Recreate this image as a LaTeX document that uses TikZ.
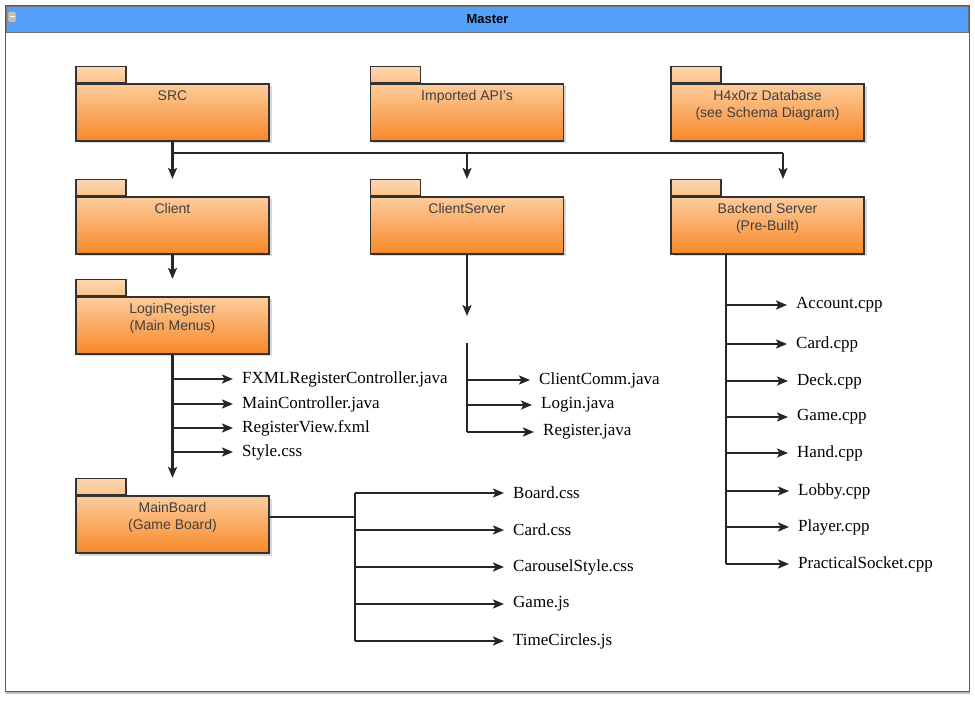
\documentclass[tikz,border=0pt]{standalone}
\usepackage{fontspec}
\setmainfont{Liberation Serif}
\setsansfont{Liberation Sans}
\usetikzlibrary{positioning,arrows.meta,shadows}

\definecolor{barblue}{RGB}{84,160,250}
\definecolor{pkgtop}{RGB}{253,204,156}
\definecolor{pkgbot}{RGB}{247,136,40}
\definecolor{tabtop}{RGB}{253,214,176}
\definecolor{tabbot}{RGB}{251,196,140}

\tikzset{
        % Outer frame and title bar
        frame_box/.style={rectangle, draw=black!65, line width=1.8pt, fill=white, minimum width=964pt, minimum height=686pt, drop shadow={shadow xshift=0pt, shadow yshift=-2pt, opacity=0.5}},
        title_bar/.style={rectangle, draw=black!55, line width=0.8pt, fill=barblue, minimum width=962pt, minimum height=26pt, font=\sffamily\bfseries\fontsize{13}{15}\selectfont},
        collapse_icon/.style={rectangle, rounded corners=1pt, draw=black!50, fill=black!25, minimum width=8pt, minimum height=11pt, inner sep=0pt,
            path picture={\draw[white, line width=1pt] ([xshift=1.5pt]path picture bounding box.west) -- ([xshift=-1.5pt]path picture bounding box.east);}},
        % Package folders
        pkg_body/.style={rectangle, draw=black!80, line width=1.4pt, top color=pkgtop, bottom color=pkgbot, minimum width=193pt, minimum height=57pt, inner sep=0pt,
            drop shadow={shadow xshift=2.5pt, shadow yshift=-2.5pt, opacity=0.3}},
        pkg_tab/.style={rectangle, draw=black!80, line width=1.4pt, top color=tabtop, bottom color=tabbot, minimum width=50pt, minimum height=16pt, inner sep=0pt, anchor=south west},
        pkg_text/.style={anchor=north, align=center, inner sep=0pt, yshift=-7pt, text=black!75, font=\sffamily\fontsize{14}{17}\selectfont},
        % File names
        file_label/.style={anchor=west, inner sep=0pt, font=\fontsize{17}{20}\selectfont},
        % Connectors
        link_line/.style={draw=black!85, line width=2.3pt},
        link_arrow/.style={link_line, -{Stealth[length=11pt, width=9pt, inset=2.5pt]}},
        branch/.style={link_arrow, shorten >=9pt}
}

\begin{document}
\begin{tikzpicture}[x=1pt, y=-1pt]
\useasboundingbox (0,0) rectangle (975,703);

\node[frame_box] (frame) at (487.5,348.5) {};
\node[title_bar] (master) at (487.5,19.5) {Master};
\node[collapse_icon] (collapse) at (12,17) {};

% packages
\node[pkg_body] (src) at (172.5,112.5) {};
\node[pkg_body] (imported) at (467,112.5) {};
\node[pkg_body] (database) at (767.5,112.5) {};
\node[pkg_body] (client) at (172.5,225.5) {};
\node[pkg_body] (clientserver) at (467,225.5) {};
\node[pkg_body] (backend) at (767.5,225.5) {};
\node[pkg_body] (login) at (172.5,325.5) {};
\node[pkg_body] (mainboard) at (172.5,524.5) {};
\foreach \p in {src,imported,database,client,clientserver,backend,login,mainboard}
    \node[pkg_tab] (\p-tab) at (\p.north west) {};

\node[pkg_text] (src-t) at (src.north) {SRC};
\node[pkg_text] (imported-t) at (imported.north) {Imported API's};
\node[pkg_text] (database-t) at (database.north) {H4x0rz Database\\(see Schema Diagram)};
\node[pkg_text] (client-t) at (client.north) {Client};
\node[pkg_text] (clientserver-t) at (clientserver.north) {ClientServer};
\node[pkg_text] (backend-t) at (backend.north) {Backend Server\\(Pre-Built)};
\node[pkg_text] (login-t) at (login.north) {LoginRegister\\(Main Menus)};
\node[pkg_text] (mainboard-t) at (mainboard.north) {MainBoard\\(Game Board)};

% file names
\node[file_label] (fxml) at (242,379) {FXMLRegisterController.java};
\node[file_label] (mainctrl) at (242,404) {MainController.java};
\node[file_label] (regview) at (242,428) {RegisterView.fxml};
\node[file_label] (style) at (242,452) {Style.css};

\node[file_label] (clientcomm) at (539,380) {ClientComm.java};
\node[file_label] (loginjava) at (541,405) {Login.java};
\node[file_label] (registerjava) at (543,432) {Register.java};

\node[file_label] (boardcss) at (513,493) {Board.css};
\node[file_label] (cardcss) at (513,530) {Card.css};
\node[file_label] (carousel) at (513,567) {CarouselStyle.css};
\node[file_label] (gamejs) at (513,604) {Game.js};
\node[file_label] (timecircles) at (513,641) {TimeCircles.js};

\node[file_label] (account) at (796,305) {Account.cpp};
\node[file_label] (cardcpp) at (796,344) {Card.cpp};
\node[file_label] (deck) at (797,381) {Deck.cpp};
\node[file_label] (game) at (797,417) {Game.cpp};
\node[file_label] (hand) at (797,453) {Hand.cpp};
\node[file_label] (lobby) at (798,491) {Lobby.cpp};
\node[file_label] (player) at (798,527) {Player.cpp};
\node[file_label] (socket) at (798,564) {PracticalSocket.cpp};

% SRC to the second row
\coordinate (src-split) at (172.5,153);
\coordinate (backend-in) at (783,153);
\draw[link_arrow] (src.south) -- (src.south |- client-tab.north);
\draw[link_line] (src-split) -- (backend-in);
\draw[link_arrow] (src-split -| clientserver.south) -- (clientserver.south |- clientserver-tab.north);
\draw[link_arrow] (backend-in) -- (backend-in |- backend-tab.north);

% Client
\draw[link_arrow] (client.south) -- (client.south |- login-tab.north);
\draw[link_arrow] (login.south) -- (login.south |- mainboard-tab.north);
\draw[branch] (login.south |- fxml.west) -- (fxml.west);
\draw[branch] (login.south |- mainctrl.west) -- (mainctrl.west);
\draw[branch] (login.south |- regview.west) -- (regview.west);
\draw[branch] (login.south |- style.west) -- (style.west);

% MainBoard
\coordinate (mb-split) at (355,517);
\draw[link_line] (mainboard.east |- mb-split) -- (mb-split);
\draw[link_line] (mb-split |- boardcss.west) -- (mb-split |- timecircles.west);
\foreach \f in {boardcss,cardcss,carousel,gamejs,timecircles}
    \draw[branch] (mb-split |- \f.west) -- (\f.west);

% ClientServer
\coordinate (cs-end) at (467,316);
\coordinate (cs-top) at (467,343);
\draw[link_arrow] (clientserver.south) -- (cs-end);
\draw[link_line] (cs-top) -- (cs-top |- registerjava.west);
\foreach \f in {clientcomm,loginjava,registerjava}
    \draw[branch] (cs-top |- \f.west) -- (\f.west);

% Backend Server
\coordinate (bk-top) at (726,254);
\draw[link_line] (bk-top) -- (bk-top |- socket.west);
\foreach \f in {account,cardcpp,deck,game,hand,lobby,player,socket}
    \draw[branch] (bk-top |- \f.west) -- (\f.west);

\end{tikzpicture}
\end{document}
